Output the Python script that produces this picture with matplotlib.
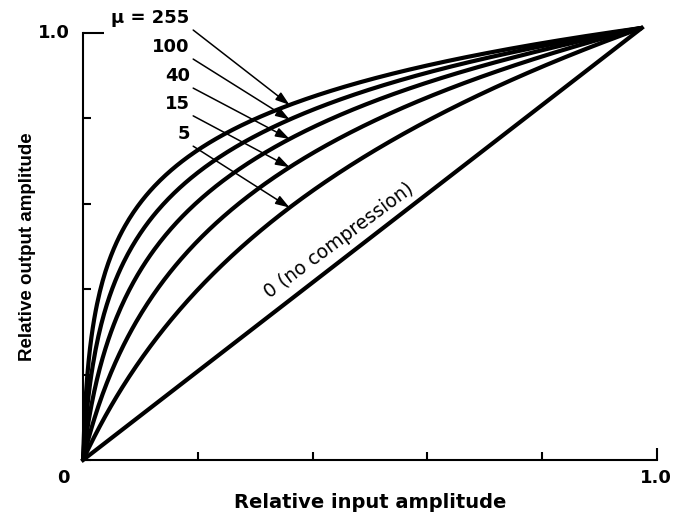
import numpy as np
import matplotlib
matplotlib.use("Agg")
from matplotlib import pyplot as plt

plt.rcParams['font.family'] = ['DejaVu Sans']
plt.rcParams['font.weight'] = 'bold'

# compression parameters of the curves
mus = [255, 100, 40, 15, 5]
mu_labels = ['\u03bc = 255', '100', '40', '15', '5']
label_y = [1.035, 0.967, 0.899, 0.834, 0.763]
arrow_x = 0.36
x_ticks = [0, 0.2, 0.4, 0.6, 0.8, 1.0]
y_ticks = [0, 0.2, 0.4, 0.6, 0.8, 1.0]

# the drawn curves meet slightly left of and above (1, 1)
x_end, y_end = 0.974, 1.012

fig = plt.figure(figsize=(6.75, 5.16), dpi=100)
ax = fig.add_axes([0.123, 0.1085, 0.850, 0.8275])

x = np.linspace(0, 1, 400)
for mu in mus:
    y = np.log1p(mu * x) / np.log1p(mu)
    ax.plot(x * x_end, y * y_end, color='black', lw=3, clip_on=False,
            solid_capstyle='butt')
ax.plot(x * x_end, x * y_end, color='black', lw=3, clip_on=False)

for mu, lab, ly in zip(mus, mu_labels, label_y):
    xa = arrow_x / x_end
    ya = np.log1p(mu * xa) / np.log1p(mu) * y_end
    ax.text(0.186, ly, lab, ha='right', va='center', fontsize=13,
            fontweight='bold', clip_on=False)
    ax.annotate('', xy=(arrow_x, ya), xytext=(0.192, ly - 0.028),
                arrowprops=dict(arrowstyle='-|>,head_length=0.6,head_width=0.2',
                                color='black', lw=1.1,
                                mutation_scale=14, shrinkA=0, shrinkB=0),
                annotation_clip=False)

ax.text(0.446, 0.515, '0 (no compression)', rotation=36.5, ha='center',
        va='center', fontsize=13.5, fontweight='normal',
        rotation_mode='anchor')

ax.set_xlim(0, 1)
ax.set_ylim(0, 1)
ax.set_xticks(x_ticks)
ax.set_yticks(y_ticks)
ax.set_xticklabels([])
ax.set_yticklabels([])
ax.tick_params(direction='in', length=6, width=1.5, color='black')
ax.yaxis.get_major_ticks()[-1].tick1line.set_markersize(15)
ax.xaxis.get_major_ticks()[-1].tick1line.set_markersize(9)
for side in ['top', 'right']:
    ax.spines[side].set_visible(False)
for side in ['left', 'bottom']:
    ax.spines[side].set_linewidth(1.5)

ax.text(-0.035, -0.042, '0', ha='center', va='center', fontsize=13,
        fontweight='bold', transform=ax.transAxes)
ax.text(0.998, -0.042, '1.0', ha='center', va='center', fontsize=13,
        fontweight='bold', transform=ax.transAxes)
ax.text(-0.023, 1.0, '1.0', ha='right', va='center', fontsize=13,
        fontweight='bold', transform=ax.transAxes)

ax.set_xlabel('Relative input amplitude', fontsize=14, fontweight='bold',
              labelpad=20)
ax.set_ylabel('Relative output amplitude', fontsize=13.5, fontweight='bold',
              family=['Liberation Sans'], labelpad=30)

fig.savefig('out.png', dpi=100)
